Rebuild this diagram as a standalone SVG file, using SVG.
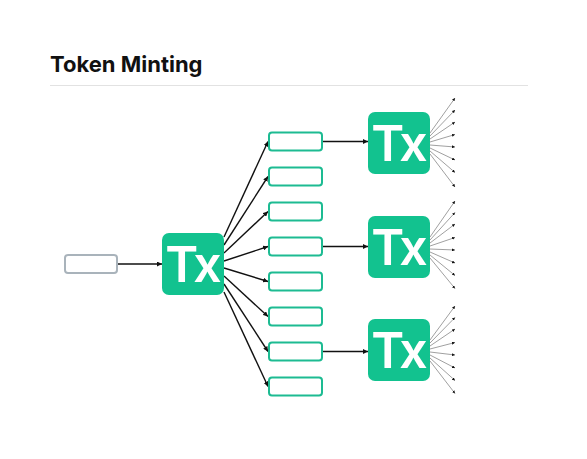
<svg xmlns="http://www.w3.org/2000/svg" width="587" height="459" viewBox="0 0 587 459">
<style>
.title{font-family:Inter,"Liberation Sans",sans-serif;font-weight:700;font-size:22px;fill:#111}
.tx{fill:#12c28f}
.txt{font-family:Inter,"Liberation Sans",sans-serif;font-weight:600;font-size:50px;letter-spacing:-3px;fill:#fff;text-anchor:middle}
.out{fill:#fff;stroke:#1dbb92;stroke-width:2}
.in{fill:#fff;stroke:#a9b3bb;stroke-width:2}
.c{stroke:#111;stroke-width:1.4;fill:none;marker-end:url(#a)}
.f{stroke:#777;stroke-width:0.7;fill:none;marker-end:url(#d)}
</style>
<defs>
<marker id="a" viewBox="0 0 10 10" refX="10" refY="5" markerWidth="5" markerHeight="5" orient="auto" markerUnits="userSpaceOnUse"><path d="M0,0L10,5L0,10z" fill="#111"/></marker>
<marker id="d" viewBox="0 0 10 10" refX="10" refY="5" markerWidth="3" markerHeight="3" orient="auto" markerUnits="userSpaceOnUse"><path d="M0,0L10,5L0,10z" fill="#111"/></marker>
</defs>
<rect width="587" height="459" fill="#fff"/>
<text class="title" x="50" y="72">Token Minting</text>
<line x1="50" y1="85.5" x2="528" y2="85.5" stroke="#e2e2e2" stroke-width="1"/>

<g id="connectors">
<line class="c" x1="118" y1="264" x2="162" y2="264"/>
<line class="c" x1="224" y1="237" x2="268" y2="141.5"/>
<line class="c" x1="224" y1="245" x2="268" y2="176.5"/>
<line class="c" x1="224" y1="253" x2="268" y2="211.5"/>
<line class="c" x1="224" y1="261" x2="268" y2="246.5"/>
<line class="c" x1="224" y1="268" x2="268" y2="281.5"/>
<line class="c" x1="224" y1="276" x2="268" y2="316.5"/>
<line class="c" x1="224" y1="284" x2="268" y2="351.5"/>
<line class="c" x1="224" y1="292" x2="268" y2="386.5"/>
<line class="c" x1="323" y1="141.5" x2="368" y2="141.5"/>
<line class="c" x1="323" y1="246.5" x2="368" y2="246.5"/>
<line class="c" x1="323" y1="351.5" x2="368" y2="351.5"/>
<g>
<line class="f" x1="430" y1="133" x2="455" y2="98"/>
<line class="f" x1="430" y1="136" x2="455" y2="110"/>
<line class="f" x1="430" y1="139" x2="455" y2="122"/>
<line class="f" x1="430" y1="142" x2="455" y2="134.5"/>
<line class="f" x1="430" y1="145" x2="455" y2="147"/>
<line class="f" x1="430" y1="148" x2="455" y2="160"/>
<line class="f" x1="430" y1="151" x2="455" y2="172.5"/>
<line class="f" x1="430" y1="154" x2="455" y2="187"/>
</g>
<g>
<line class="f" x1="430" y1="237" x2="455" y2="201"/>
<line class="f" x1="430" y1="240" x2="455" y2="212.5"/>
<line class="f" x1="430" y1="243" x2="455" y2="224"/>
<line class="f" x1="430" y1="246" x2="455" y2="237.5"/>
<line class="f" x1="430" y1="249" x2="455" y2="250"/>
<line class="f" x1="430" y1="252" x2="455" y2="263"/>
<line class="f" x1="430" y1="255" x2="455" y2="275.5"/>
<line class="f" x1="430" y1="258" x2="455" y2="288.5"/>
</g>
<g>
<line class="f" x1="430" y1="340" x2="455" y2="306"/>
<line class="f" x1="430" y1="343" x2="455" y2="317.5"/>
<line class="f" x1="430" y1="346" x2="455" y2="329"/>
<line class="f" x1="430" y1="349" x2="455" y2="342.5"/>
<line class="f" x1="430" y1="352" x2="455" y2="355"/>
<line class="f" x1="430" y1="355" x2="455" y2="368"/>
<line class="f" x1="430" y1="358" x2="455" y2="380.5"/>
<line class="f" x1="430" y1="361" x2="455" y2="393.5"/>
</g>
</g>

<g id="input"><rect class="in" x="65" y="255" width="52" height="18" rx="3"/></g>
<g id="tx-main"><rect class="tx" x="162" y="233" width="62" height="62" rx="7"/><text class="txt" x="192" y="282">Tx</text></g>

<g id="out1"><rect class="out" x="269" y="132.5" width="53" height="18" rx="3"/></g>
<g id="out2"><rect class="out" x="269" y="167.5" width="53" height="18" rx="3"/></g>
<g id="out3"><rect class="out" x="269" y="202.5" width="53" height="18" rx="3"/></g>
<g id="out4"><rect class="out" x="269" y="237.5" width="53" height="18" rx="3"/></g>
<g id="out5"><rect class="out" x="269" y="272.5" width="53" height="18" rx="3"/></g>
<g id="out6"><rect class="out" x="269" y="307.5" width="53" height="18" rx="3"/></g>
<g id="out7"><rect class="out" x="269" y="342.5" width="53" height="18" rx="3"/></g>
<g id="out8"><rect class="out" x="269" y="377.5" width="53" height="18" rx="3"/></g>

<g id="tx1"><rect class="tx" x="368" y="112" width="62" height="62" rx="7"/><text class="txt" x="398" y="161">Tx</text></g>
<g id="tx2"><rect class="tx" x="368" y="216" width="62" height="62" rx="7"/><text class="txt" x="398" y="265">Tx</text></g>
<g id="tx3"><rect class="tx" x="368" y="319" width="62" height="62" rx="7"/><text class="txt" x="398" y="368">Tx</text></g>
</svg>
